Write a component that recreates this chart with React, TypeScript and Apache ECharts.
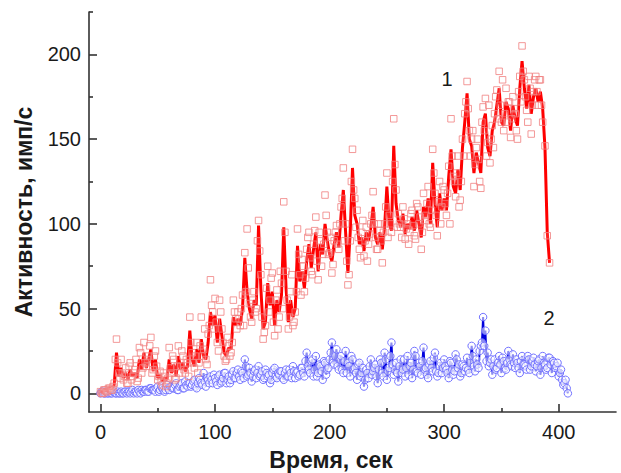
import React, { useEffect, useRef } from "react";
import * as echarts from "echarts";

const SAMPLE_STEP = 2; // seconds between samples of each array

const xTickValues = [0, 100, 200, 300, 400];
const xMinorTickValues = [50, 150, 250, 350];
const yTickValues = [0, 50, 100, 150, 200];
const yMinorTickValues = [25, 75, 125, 175, 225];

// Curve 1: measured points (red squares) at even seconds, t = 0, 2, 4 ...
const redPointsEven = [
  1, 0, 2, 1, 3, 2, 6, 32, 12, 20,
  8, 15, 6, 18, 10, 14, 7, 27, 12, 30,
  16, 22, 33, 14, 25, 8, 13, 5, 10, 6,
  27, 12, 20, 9, 28, 16, 22, 12, 18, 45,
  24, 15, 30, 18, 45, 26, 20, 35, 67, 48,
  56, 30, 55, 38, 22, 20, 28, 24, 55, 44,
  48, 40, 58, 83, 97, 53, 42, 60, 50, 102,
  70, 32, 40, 75, 55, 71, 34, 61, 45, 65,
  113, 72, 38, 60, 40, 48, 97, 70, 79, 60,
  85, 95, 72, 88, 104, 67, 90, 82, 117, 95,
  83, 71, 90, 99, 85, 110, 133, 100, 64, 90,
  144, 115, 108, 85, 95, 81, 98, 88, 100, 119,
  92, 85, 96, 77, 100, 130, 105, 95, 162, 120,
  106, 98, 110, 91, 100, 95, 108, 93, 112, 100,
  85, 118, 105, 122, 98, 144, 118, 93, 125, 110,
  120, 105, 134, 162, 128, 116, 140, 114, 150, 165,
  184, 155, 150, 122, 145, 138, 121, 169, 174, 148,
  136, 158, 165, 179, 190, 160, 155, 180, 172, 151,
  175, 165, 150, 187, 205, 185, 167, 187, 153, 178,
  187, 170, 185, 160, 146, 93, 77,
];

// Curve 1: measured points (red squares) at odd seconds, t = 1, 3, 5 ...
const redPointsOdd = [
  0, 2, 1, 3, 2, 4, 20, 18, 9, 12,
  10, 6, 16, 8, 12, 20, 9, 24, 15, 18,
  20, 28, 12, 22, 16, 10, 7, 12, 4, 9,
  15, 22, 8, 16, 12, 25, 14, 20, 10, 30,
  18, 22, 12, 28, 22, 38, 17, 40, 52, 38,
  42, 25, 48, 30, 19, 33, 22, 30, 48, 38,
  44, 50, 40, 60, 74, 45, 55, 48, 90, 84,
  45, 36, 62, 48, 68, 42, 55, 38, 72, 50,
  95, 55, 45, 70, 42, 60, 82, 58, 75, 68,
  92, 80, 70, 96, 78, 95, 75, 88, 105, 82,
  92, 76, 95, 88, 100, 115, 90, 78, 70, 125,
  120, 98, 92, 80, 102, 90, 78, 94, 105, 100,
  85, 100, 90, 95, 110, 92, 100, 125, 135, 98,
  100, 92, 103, 97, 88, 106, 99, 91, 110, 104,
  95, 102, 112, 100, 108, 130, 105, 113, 100, 122,
  112, 118, 100, 140, 125, 130, 110, 125, 140, 172,
  168, 140, 155, 135, 150, 125, 160, 155, 140, 170,
  150, 145, 175, 162, 170, 185, 165, 160, 172, 162,
  168, 155, 178, 172, 190, 175, 160, 180, 170, 185,
  178, 185, 170,
];

// Curve 1: drawn line (red), t = 0, 2, 4 ...
const redLine = [
  1, 1, 2, 2, 3, 3, 5, 24, 10, 15,
  9, 12, 8, 14, 10, 12, 9, 20, 14, 24,
  15, 20, 26, 13, 20, 9, 11, 7, 9, 8,
  20, 12, 17, 10, 22, 14, 18, 13, 16, 37,
  20, 16, 26, 18, 32, 22, 20, 30, 48, 40,
  46, 30, 44, 34, 24, 22, 27, 26, 45, 40,
  44, 40, 50, 80, 60, 50, 44, 55, 52, 99,
  62, 38, 42, 65, 52, 60, 40, 55, 48, 58,
  98, 62, 42, 55, 45, 50, 87, 66, 72, 62,
  78, 88, 74, 85, 95, 72, 88, 82, 100, 90,
  82, 78, 88, 95, 86, 105, 120, 95, 71, 95,
  133, 105, 100, 88, 92, 84, 95, 90, 98, 110,
  92, 88, 95, 85, 98, 122, 100, 96, 146, 112,
  102, 98, 106, 94, 100, 97, 104, 96, 108, 100,
  92, 110, 104, 115, 100, 136, 112, 98, 118, 108,
  115, 108, 128, 144, 122, 118, 132, 120, 145, 160,
  177, 150, 146, 130, 142, 136, 130, 160, 165, 145,
  140, 155, 160, 170, 180, 160, 158, 172, 168, 155,
  170, 162, 158, 180, 196, 180, 168, 182, 165, 175,
  180, 172, 178, 168, 145, 95, 77,
];

// Curve 2 (blue circles) at even seconds, t = 0, 2, 4 ...
const blueEven = [
  0, 1, 0, 0, 1, 0, 1, 0, 0, 1,
  0, 1, 1, 0, 2, 1, 0, 1, 2, 1,
  2, 1, 3, 2, 1, 4, 2, 3, 1, 5,
  2, 4, 3, 6, 2, 5, 3, 7, 4, 6,
  5, 8, 3, 9, 6, 12, 4, 8, 10, 6,
  9, 5, 11, 7, 12, 6, 10, 8, 13, 9,
  14, 8, 12, 20, 10, 15, 7, 13, 9, 16,
  11, 8, 14, 10, 6, 12, 15, 9, 11, 13,
  8, 14, 10, 12, 16, 9, 13, 11, 15, 10,
  24, 14, 19, 10, 22, 12, 16, 8, 18, 14,
  20, 30, 17, 26, 14, 22, 12, 25, 18, 10,
  20, 15, 8, 18, 12, 4, 14, 9, 20, 13,
  17, 6, 20, 12, 24, 8, 15, 30, 11, 18,
  7, 20, 14, 10, 22, 16, 9, 25, 13, 18,
  11, 27, 15, 9, 19, 13, 24, 10, 16, 12,
  20, 14, 9, 18, 11, 23, 15, 10, 17, 13,
  21, 12, 28, 16, 20, 15, 28, 45, 37, 24,
  18, 11, 20, 15, 22, 12, 19, 14, 25, 17,
  23, 15, 18, 12, 22, 17, 14, 20, 16, 21,
  13, 19, 11, 22, 17, 15, 21, 12, 18, 16,
  10, 14, 5, 8, 0,
];

// Curve 2 (blue circles) at odd seconds, t = 1, 3, 5 ...
const blueOdd = [
  1, 0, 1, 0, 0, 1, 0, 1, 0, 0,
  1, 0, 1, 1, 0, 1, 2, 0, 1, 2,
  1, 3, 2, 2, 3, 1, 4, 2, 2, 3,
  4, 3, 5, 2, 4, 6, 3, 5, 6, 4,
  7, 4, 6, 8, 5, 7, 9, 6, 8, 11,
  7, 10, 6, 9, 12, 8, 6, 11, 9, 12,
  10, 13, 9, 16, 11, 12, 10, 14, 12, 10,
  13, 9, 12, 11, 8, 14, 10, 12, 13, 9,
  12, 10, 14, 9, 13, 12, 10, 15, 12, 19,
  16, 12, 20, 14, 10, 17, 13, 19, 11, 15,
  24, 18, 22, 16, 20, 14, 19, 12, 16, 22,
  14, 12, 17, 10, 15, 8, 12, 16, 11, 15,
  10, 14, 18, 10, 20, 13, 22, 17, 14, 12,
  16, 12, 20, 15, 11, 18, 14, 22, 12, 16,
  19, 14, 11, 17, 15, 21, 13, 12, 18, 15,
  16, 12, 19, 14, 13, 20, 17, 12, 16, 15,
  14, 18, 22, 13, 17, 25, 30, 28, 19, 16,
  20, 16, 14, 18, 17, 21, 15, 18, 20, 16,
  18, 20, 15, 19, 17, 16, 22, 14, 19, 17,
  16, 20, 15, 18, 14, 21, 17, 19, 15, 18,
  12, 8, 6, 3,
];

const xTitle = "Время, сек";
const yTitle = "Активность, имп/с";
const curveLabels = ["1", "2"];

const FONT = "'Liberation Sans', Arial, Helvetica, sans-serif";
const AXIS_COLOR = "#333333";
const TEXT_COLOR = "#1a1a1a";

export default function App() {
  const ref = useRef<HTMLDivElement>(null);

  useEffect(() => {
    document.body.style.margin = "0";
    if (!ref.current) return;
    const chart = echarts.init(ref.current, undefined, { renderer: "svg" });

    const toXY = (arr: number[], t0: number) => arr.map((v, i) => [t0 + i * SAMPLE_STEP, v]);
    const merge = (a: number[][], b: number[][]) => [...a, ...b].sort((p, q) => p[0] - q[0]);

    const redSquares = merge(toXY(redPointsEven, 0), toXY(redPointsOdd, 1));
    const blueData = merge(toXY(blueEven, 0), toXY(blueOdd, 1));

    const xMin = -10, xMax = 450, yMin = -11, yMax = 225;

    const option: any = {
      animation: false,
      backgroundColor: "#ffffff",
      grid: { left: 89, right: 5, top: 12, bottom: 61, containLabel: false, outerBoundsMode: "none" },
      xAxis: [
        {
          type: "value",
          min: xMin,
          max: xMax,
          axisLine: { show: true, onZero: false, lineStyle: { color: AXIS_COLOR, width: 1.6 } },
          axisTick: { show: true, inside: true, length: 8, customValues: xTickValues, lineStyle: { color: AXIS_COLOR, width: 1.6 } },
          axisLabel: { show: true, customValues: xTickValues, margin: 10, color: TEXT_COLOR, fontSize: 20, fontFamily: FONT },
          splitLine: { show: false },
        },
        {
          type: "value",
          min: xMin,
          max: xMax,
          position: "bottom",
          axisLine: { show: false, onZero: false },
          axisTick: { show: true, inside: true, length: 4, customValues: xMinorTickValues, lineStyle: { color: AXIS_COLOR, width: 1.6 } },
          axisLabel: { show: false },
          splitLine: { show: false },
        },
      ],
      yAxis: [
        {
          type: "value",
          min: yMin,
          max: yMax,
          axisLine: { show: true, onZero: false, lineStyle: { color: AXIS_COLOR, width: 1.6 } },
          axisTick: { show: true, inside: true, length: 8, customValues: yTickValues, lineStyle: { color: AXIS_COLOR, width: 1.6 } },
          axisLabel: { show: true, customValues: yTickValues, margin: 8, color: TEXT_COLOR, fontSize: 20, fontFamily: FONT },
          splitLine: { show: false },
        },
        {
          type: "value",
          min: yMin,
          max: yMax,
          position: "left",
          axisLine: { show: false, onZero: false },
          axisTick: { show: true, inside: true, length: 4, customValues: yMinorTickValues, lineStyle: { color: AXIS_COLOR, width: 1.6 } },
          axisLabel: { show: false },
          splitLine: { show: false },
        },
      ],
      series: [
        {
          type: "line",
          name: curveLabels[1],
          data: blueData,
          symbol: "circle",
          symbolSize: 7.5,
          showAllSymbol: true,
          lineStyle: { color: "#0000dd", width: 2 },
          itemStyle: { color: "rgba(255,255,255,0.55)", borderColor: "#7373ff", borderWidth: 1 },
          z: 2,
        },
        {
          type: "line",
          name: curveLabels[0] + " line",
          data: toXY(redLine, 0),
          symbol: "none",
          lineStyle: { color: "#ff0000", width: 3 },
          z: 3,
        },
        {
          type: "scatter",
          name: curveLabels[0],
          data: redSquares,
          symbol: "rect",
          symbolSize: 6.5,
          large: false,
          itemStyle: { color: "rgba(255,255,255,0.15)", borderColor: "#f08080", borderWidth: 1 },
          z: 4,
        },
      ],
      graphic: [
        {
          type: "text",
          x: 331,
          y: 460,
          style: { text: xTitle, font: `bold 23px ${FONT}`, fill: TEXT_COLOR, align: "center", verticalAlign: "middle" },
        },
        {
          type: "text",
          x: 24,
          y: 212,
          rotation: Math.PI / 2,
          style: { text: yTitle, font: `bold 23px ${FONT}`, fill: TEXT_COLOR, align: "center", verticalAlign: "middle" },
        },
        {
          type: "text",
          x: 447,
          y: 79,
          style: { text: curveLabels[0], font: `20px ${FONT}`, fill: TEXT_COLOR, align: "center", verticalAlign: "middle" },
        },
        {
          type: "text",
          x: 549,
          y: 318,
          style: { text: curveLabels[1], font: `20px ${FONT}`, fill: TEXT_COLOR, align: "center", verticalAlign: "middle" },
        },
      ],
    };

    chart.setOption(option);
    return () => chart.dispose();
  }, []);

  return <div ref={ref} style={{ width: 621, height: 473 }} />;
}
